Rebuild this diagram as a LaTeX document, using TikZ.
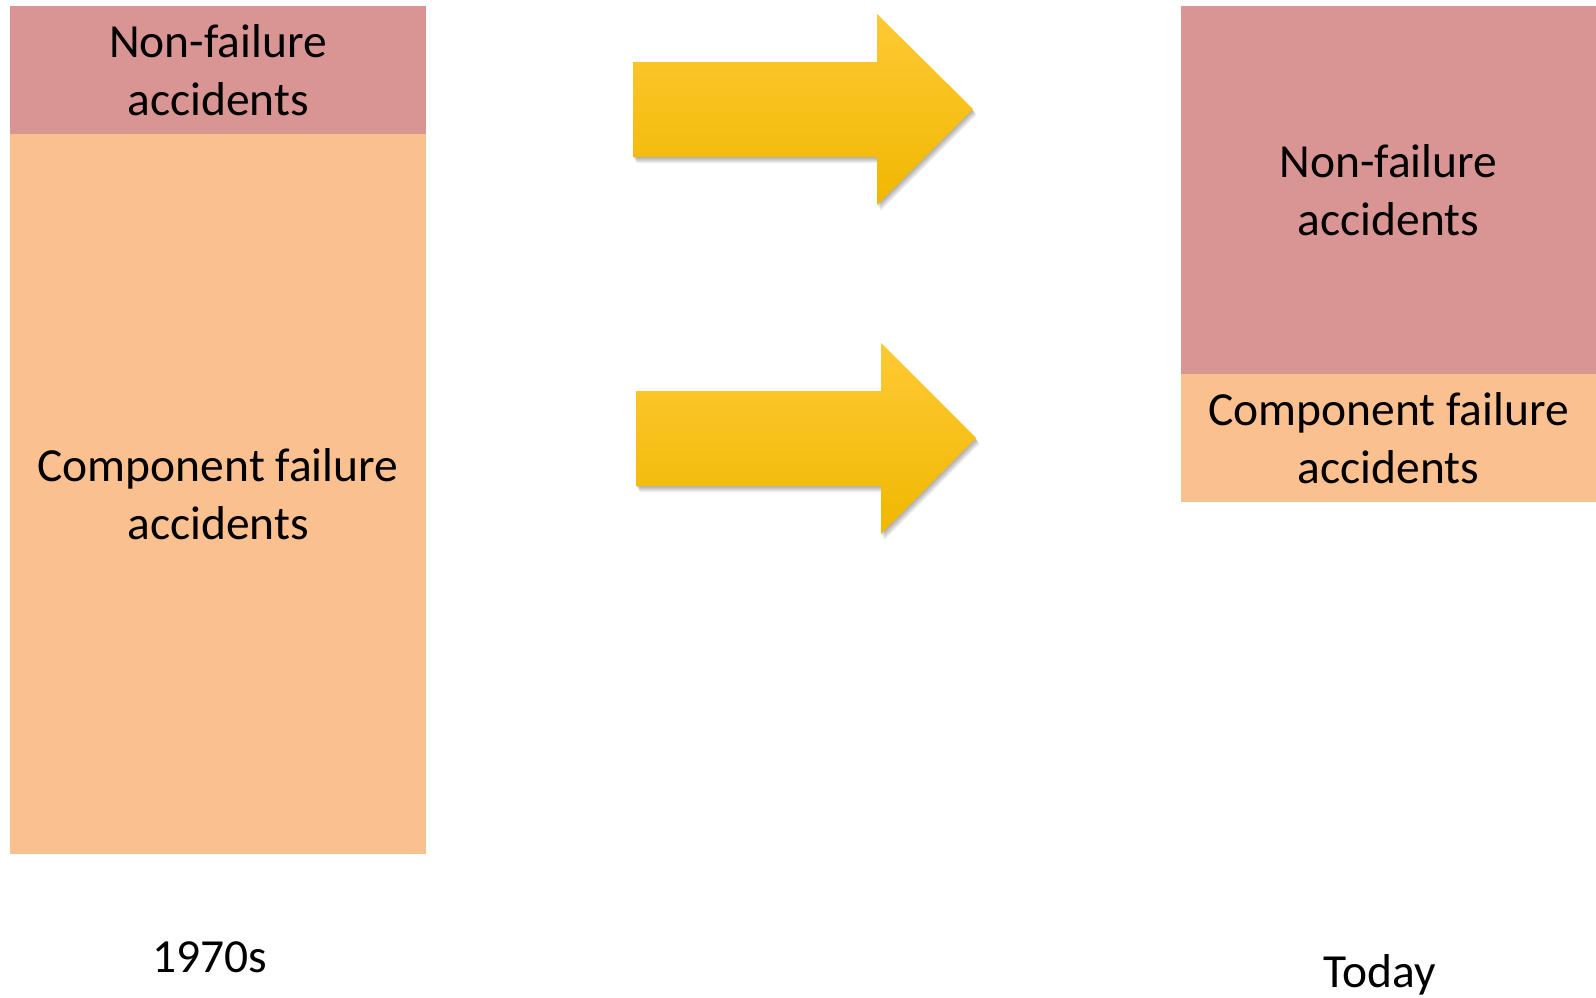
\documentclass[tikz,border=0pt]{standalone}
\usepackage{fontspec}
\setmainfont{Carlito}
\definecolor{pinkc}{HTML}{D99594}
\definecolor{orangec}{HTML}{FAC090}
\definecolor{goldtop}{HTML}{FFC935}
\definecolor{goldmid}{HTML}{FFC400}
\definecolor{goldbot}{HTML}{F0B800}
\newcommand\ArrowTop{(633,62) -- (877,62) -- (877,14) -- (973,109) -- (877,205) -- (877,157) -- (633,157) -- cycle}
\newcommand\ArrowBot{(636,391) -- (881,391) -- (881,343) -- (976,438) -- (881,534) -- (881,486) -- (636,486) -- cycle}
\begin{document}
\begin{tikzpicture}[x=1pt,y=-1pt,
  box/.style={inner sep=0pt, align=center, font=\fontsize{47.5}{58}\selectfont},
  lbl/.style={inner sep=0pt, font=\fontsize{47.5}{58}\selectfont},
  yarrow/.style={top color=goldtop, middle color=goldmid, bottom color=goldbot},
  softshadow/.style={fill=black, fill opacity=0.06}]
\useasboundingbox (0,0) rectangle (1596,997);
% left column
\node[box, fill=pinkc, minimum width=416pt, minimum height=128pt] (lnf) at (218,70) {Non-failure\\accidents};
\node[box, fill=orangec, minimum width=416pt, minimum height=720pt] (lcf) at (218,494) {Component failure\\accidents};
% right column
\node[box, fill=pinkc, minimum width=415pt, minimum height=368pt] (rnf) at (1388.5,190) {Non-failure\\accidents};
\node[box, fill=orangec, minimum width=415pt, minimum height=128pt] (rcf) at (1388.5,438) {Component failure\\accidents};
% arrow shadows (soft)
\foreach \s in {1,...,6}{
  \fill[softshadow, xshift=0.6*\s pt, yshift=-\s pt] \ArrowTop;
  \fill[softshadow, xshift=0.6*\s pt, yshift=-\s pt] \ArrowBot;
}
% arrows
\path[yarrow] \ArrowTop;
\path[yarrow] \ArrowBot;
% labels
\node[lbl] (y1970) at (210,957) {1970s};
\node[lbl] (today) at (1380,975) {Today};
\end{tikzpicture}
\end{document}
